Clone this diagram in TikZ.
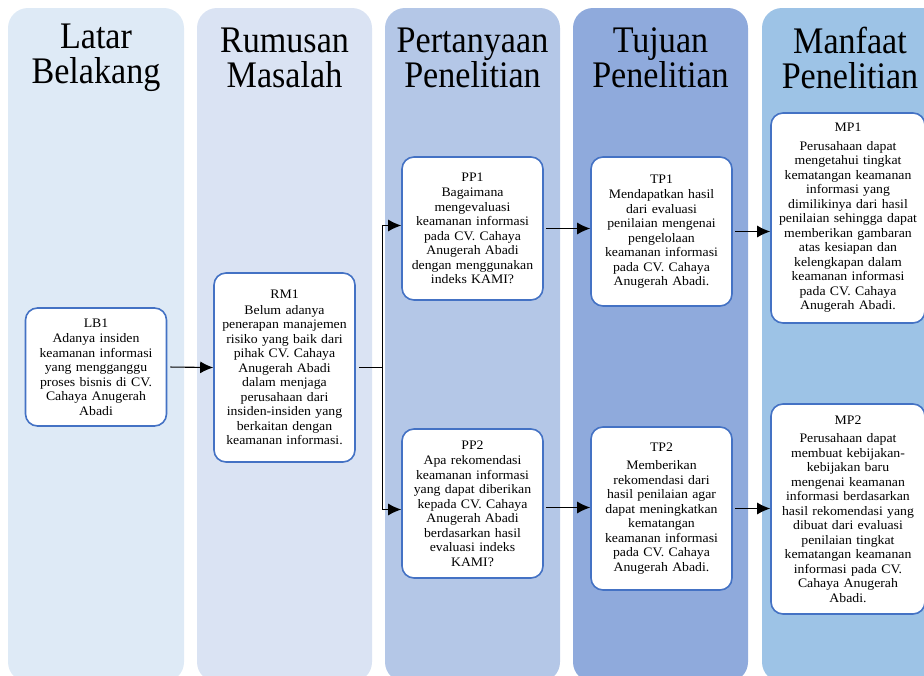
\documentclass[tikz,border=0pt]{standalone}
\usepackage{fontspec}
\setmainfont[FakeStretch=1.06]{Liberation Serif}
\newfontfamily\headfont[FakeStretch=0.91]{Liberation Serif}
\usetikzlibrary{arrows.meta}
\definecolor{warnaA}{RGB}{222,234,246}
\definecolor{warnaB}{RGB}{218,227,243}
\definecolor{warnaC}{RGB}{180,199,231}
\definecolor{warnaD}{RGB}{143,170,220}
\definecolor{warnaE}{RGB}{157,195,230}
\definecolor{garis}{RGB}{68,114,196}

\begin{document}
\begin{tikzpicture}[x=1pt,y=-1pt,
  kolom/.style={rounded corners=20pt},
  judul/.style={font=\headfont\fontsize{37.5}{35}\selectfont, align=center, inner sep=0pt},
  kotak/.style={draw=garis, line width=1.6pt, fill=white, rounded corners=12pt, align=center, text width=135pt, inner sep=3pt, font=\fontsize{13}{14.5}\selectfont},
  lebar/.style={text width=148pt},
  panah/.style={-{Latex[length=13pt,width=12pt]}, line width=1.1pt}]
\useasboundingbox (0,0) rectangle (924,675);

\fill[warnaA,kolom] (8,8) rectangle (184,682);
\fill[warnaB,kolom] (197,8) rectangle (372,682);
\fill[warnaC,kolom] (385,8) rectangle (560,682);
\fill[warnaD,kolom] (573,8) rectangle (748,682);
\fill[warnaE,kolom] (762,8) rectangle (950,682);

\node[judul] (hLB) at (96,58) {Latar\\Belakang};
\node[judul] (hRM) at (284.5,58) {Rumusan\\Masalah};
\node[judul] (hPP) at (472.5,58) {Pertanyaan\\Penelitian};
\node[judul] (hTP) at (660.5,58) {Tujuan\\Penelitian};
\node[judul] (hMP) at (850,58) {Manfaat\\Penelitian};

\node[kotak, minimum height=118pt] (LB1) at (96,367) {LB1\\[1pt] Adanya insiden\\ keamanan informasi\\ yang mengganggu\\ proses bisnis di CV.\\ Cahaya Anugerah\\ Abadi};
\node[kotak, minimum height=189pt] (RM1) at (284.5,367.5) {RM1\\[1pt] Belum adanya\\ penerapan manajemen\\ risiko yang baik dari\\ pihak CV. Cahaya\\ Anugerah Abadi\\ dalam menjaga\\ perusahaan dari\\ insiden-insiden yang\\ berkaitan dengan\\ keamanan informasi.};
\node[kotak, minimum height=143pt] (PP1) at (472.5,228.5) {PP1\\[1pt] Bagaimana\\ mengevaluasi\\ keamanan informasi\\ pada CV. Cahaya\\ Anugerah Abadi\\ dengan menggunakan\\ indeks KAMI?};
\node[kotak, minimum height=149pt] (TP1) at (661.5,231.5) {TP1\\[1pt] Mendapatkan hasil\\ dari evaluasi\\ penilaian mengenai\\ pengelolaan\\ keamanan informasi\\ pada CV. Cahaya\\ Anugerah Abadi.};
\node[kotak, minimum height=149pt] (PP2) at (472.5,503.5) {PP2\\[1pt] Apa rekomendasi\\ keamanan informasi\\ yang dapat diberikan\\ kepada CV. Cahaya\\ Anugerah Abadi\\ berdasarkan hasil\\ evaluasi indeks\\ KAMI?};
\node[kotak, minimum height=163pt] (TP2) at (661.5,508.5) {TP2\\[4pt] Memberikan\\ rekomendasi dari\\ hasil penilaian agar\\ dapat meningkatkan\\ kematangan\\ keamanan informasi\\ pada CV. Cahaya\\ Anugerah Abadi.};
\node[kotak, lebar, minimum height=210pt] (MP1) at (848,218) {MP1\\[4pt] Perusahaan dapat\\ mengetahui tingkat\\ kematangan keamanan\\ informasi yang\\ dimilikinya dari hasil\\ penilaian sehingga dapat\\ memberikan gambaran\\ atas kesiapan dan\\ kelengkapan dalam\\ keamanan informasi\\ pada CV. Cahaya\\ Anugerah Abadi.};
\node[kotak, lebar, minimum height=210pt] (MP2) at (848,509) {MP2\\[4pt] Perusahaan dapat\\ membuat kebijakan-\\ kebijakan baru\\ mengenai keamanan\\ informasi berdasarkan\\ hasil rekomendasi yang\\ dibuat dari evaluasi\\ penilaian tingkat\\ kematangan keamanan\\ informasi pada CV.\\ Cahaya Anugerah\\ Abadi.};

\draw[panah,shorten <=3pt] (LB1.east) -- (RM1.west);
\draw[line width=1.1pt,shorten <=3pt] (RM1.east) -- ++(27,0) coordinate (cabang);
\draw[panah] (cabang) |- ([yshift=3pt]PP1.west);
\draw[panah] (cabang) |- ([yshift=-6pt]PP2.west);
\draw[panah,shorten <=2pt] (PP1.east) -- (PP1.east -| TP1.west);
\draw[panah,shorten <=2pt] (TP1.east) -- (TP1.east -| MP1.west);
\draw[panah,shorten <=2pt] ([yshift=-4pt]PP2.east) -- ([yshift=-4pt]PP2.east -| TP2.west);
\draw[panah,shorten <=2pt] (TP2.east) -- (TP2.east -| MP2.west);
\end{tikzpicture}
\end{document}
